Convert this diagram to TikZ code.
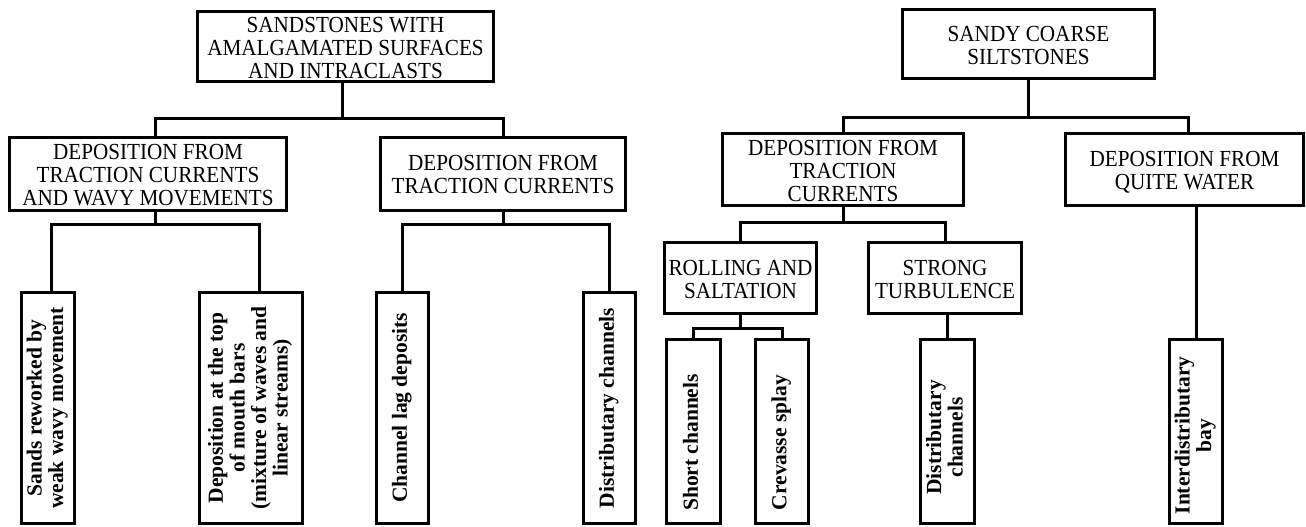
\documentclass[tikz,border=0pt]{standalone}
\usepackage{fontspec}
\setmainfont{Liberation Serif}
\newfontfamily\headfont[FakeStretch=0.92]{Liberation Serif}
\usepackage{graphicx}
\usepackage{tikz}

\tikzset{
  headbox/.style={draw, line width=3pt, inner sep=0pt,
    font=\headfont\fontsize{23}{23}\selectfont},
  vertbox/.style={draw, line width=3pt, inner sep=0pt,
    font=\fontsize{21.5}{21.5}\selectfont\bfseries},
  link/.style={line width=3pt},
}
% box texts: heads sit a little low, rotated labels can be pushed down
\newcommand{\htext}[1]{\raisebox{-4pt}[\height][\depth]{\begin{tabular}{@{}c@{}}#1\end{tabular}}}
\newcommand{\vlabel}[2][0pt]{\rotatebox{90}{\begin{tabular}{@{}c@{}}#2\end{tabular}\hspace*{#1}}}

\begin{document}
\begin{tikzpicture}[x=1pt,y=1pt]
\useasboundingbox (0,0) rectangle (1306,-527);

% left tree
\node[headbox, minimum width=296pt, minimum height=70pt] (sand) at (345.5,-46.5)
  {\htext{SANDSTONES WITH\\AMALGAMATED SURFACES\\AND INTRACLASTS}};
\node[headbox, minimum width=277pt, minimum height=73pt] (wavy) at (148,-173.5)
  {\htext{DEPOSITION FROM\\TRACTION CURRENTS\\AND WAVY MOVEMENTS}};
\node[headbox, minimum width=245pt, minimum height=73pt] (tracL) at (503,-173.5)
  {\htext{DEPOSITION FROM\\TRACTION CURRENTS}};

\node[vertbox, minimum width=53pt, minimum height=231pt] (sands) at (48,-408)
  {\vlabel{Sands reworked by\\weak wavy movement}};
\node[vertbox, minimum width=103pt, minimum height=231pt] (mouth) at (251,-408)
  {\vlabel{Deposition at the top\\of mouth bars\\(mixture of waves and\\linear streams)}};
\node[vertbox, minimum width=52pt, minimum height=231pt] (lag) at (402.5,-408)
  {\vlabel{Channel lag deposits}};
\node[vertbox, minimum width=52pt, minimum height=231pt] (distL) at (609.5,-408)
  {\vlabel{Distributary channels}};

\draw[link] ([xshift=-3pt]sand.south) -- ++(0,-35) coordinate (j1);
\draw[link] ([xshift=7pt]wavy.north) |- (j1) -| (tracL.north);
\draw[link] ([xshift=7pt]wavy.south) -- ++(0,-13) coordinate (j2);
\draw[link] ([xshift=3pt]sands.north) |- (j2) -| ([xshift=8pt]mouth.north);
\draw[link] (tracL.south) -- ++(0,-13) coordinate (j3);
\draw[link] (lag.north) |- (j3) -| (distL.north);

% right tree
\node[headbox, minimum width=252pt, minimum height=69pt] (silt) at (1028.5,-44)
  {\htext{SANDY COARSE\\SILTSTONES}};
\node[headbox, minimum width=241pt, minimum height=72pt] (tracR) at (843,-169.5)
  {\htext{DEPOSITION FROM\\TRACTION\\CURRENTS}};
\node[headbox, minimum width=238pt, minimum height=72pt] (quiet) at (1184.5,-169.5)
  {\htext{DEPOSITION FROM\\QUITE WATER}};
\node[headbox, minimum width=152pt, minimum height=71pt] (roll) at (740.5,-278)
  {\htext{ROLLING AND\\SALTATION}};
\node[headbox, minimum width=153pt, minimum height=71pt] (turb) at (945,-278)
  {\htext{STRONG\\TURBULENCE}};

\node[vertbox, minimum width=54pt, minimum height=184pt] (short) at (693.5,-431.5)
  {\vlabel[22pt]{Short channels}};
\node[vertbox, minimum width=53pt, minimum height=184pt] (splay) at (782,-431.5)
  {\vlabel[22pt]{Crevasse splay}};
\node[vertbox, minimum width=54pt, minimum height=184pt] (distR) at (947.5,-431.5)
  {\vlabel[12pt]{Distributary\\channels}};
\node[vertbox, minimum width=53pt, minimum height=184pt] (bay) at (1196,-431.5)
  {\vlabel[8pt]{Interdistributary\\bay}};

\draw[link] (silt.south) -- ++(0,-37) coordinate (k1);
\draw[link] (tracR.north) |- (k1) -| ([xshift=4pt]quiet.north);
\draw[link] (tracR.south) -- ++(0,-15) coordinate (k2);
\draw[link] (roll.north) |- (k2) -| (turb.north);
\draw[link] (roll.south) -- ++(0,-13) coordinate (k3);
\draw[link] (short.north) |- (k3) -| (splay.north);
\draw[link] (distR.north) -- (distR.north |- turb.south);
\draw[link] (bay.north) -- (bay.north |- quiet.south);

\end{tikzpicture}
\end{document}
